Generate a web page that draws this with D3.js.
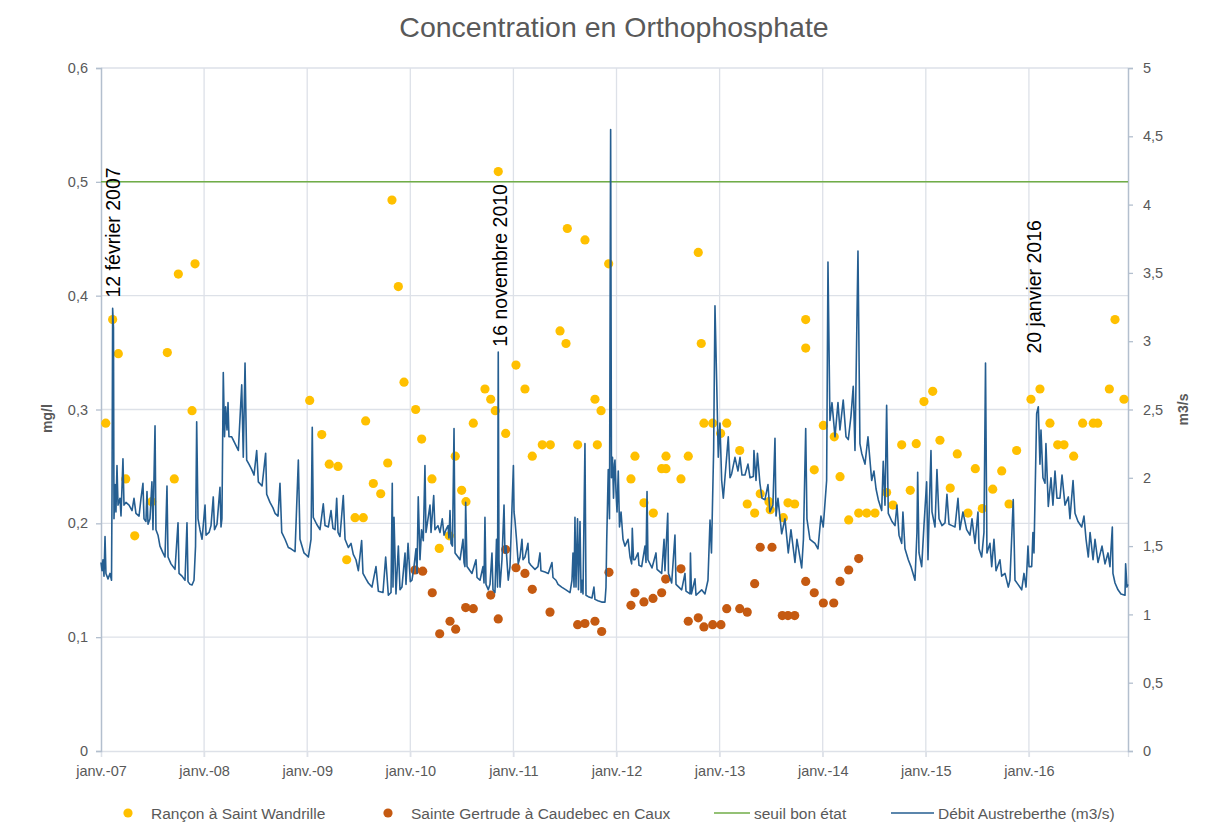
<!DOCTYPE html>
<html>
<head>
<meta charset="utf-8">
<script src="https://cdn.jsdelivr.net/npm/d3@7"></script>
<style>
  body { margin: 0; background: #fff; }
  text { font-family: "Liberation Sans", Arial, sans-serif; }
</style>
</head>
<body>
<div id="chart"></div>
<script>
// ---- data (x values are decimal years) ----
const yearTicks = [2007, 2008, 2009, 2010, 2011, 2012, 2013, 2014, 2015, 2016];
const yearLabels = ["janv.-07", "janv.-08", "janv.-09", "janv.-10", "janv.-11", "janv.-12", "janv.-13", "janv.-14", "janv.-15", "janv.-16"];
const leftTicks = [0, 0.1, 0.2, 0.3, 0.4, 0.5, 0.6];
const rightTicks = [0, 0.5, 1, 1.5, 2, 2.5, 3, 3.5, 4, 4.5, 5];
const seuilBonEtat = 0.5;

// Rançon à Saint Wandrille (mg/l)
const ranconDates = [2007.046, 2007.113, 2007.168, 2007.240, 2007.327, 2007.492, 2007.643, 2007.711, 2007.750, 2007.883, 2007.912,
  2009.024, 2009.141, 2009.214, 2009.299, 2009.383, 2009.464, 2009.544, 2009.567, 2009.641, 2009.713, 2009.781, 2009.822, 2009.884, 2009.939,
  2010.052, 2010.110, 2010.210, 2010.281, 2010.378, 2010.436, 2010.498, 2010.540, 2010.611, 2010.724, 2010.780, 2010.824, 2010.853, 2010.925,
  2011.025, 2011.112, 2011.183, 2011.280, 2011.358, 2011.452, 2011.510, 2011.523, 2011.623, 2011.694, 2011.791, 2011.814, 2011.850, 2011.924,
  2012.140, 2012.179, 2012.266, 2012.357, 2012.438, 2012.480, 2012.480, 2012.625, 2012.696, 2012.793, 2012.822, 2012.848, 2012.933,
  2013.010, 2013.069, 2013.195, 2013.268, 2013.340, 2013.394, 2013.479, 2013.491, 2013.618, 2013.663, 2013.728, 2013.835, 2013.835, 2013.918,
  2014.006, 2014.112, 2014.168, 2014.252, 2014.349, 2014.427, 2014.507, 2014.620, 2014.681, 2014.766, 2014.849, 2014.907, 2014.982,
  2015.067, 2015.137, 2015.237, 2015.305, 2015.409, 2015.480, 2015.548, 2015.649, 2015.736, 2015.807, 2015.881,
  2016.020, 2016.107, 2016.204, 2016.279, 2016.340, 2016.434, 2016.521, 2016.624, 2016.667, 2016.780, 2016.835, 2016.922];
const ranconValues = [0.288, 0.379, 0.349, 0.239, 0.189, 0.219, 0.35, 0.239, 0.419, 0.299, 0.428,
  0.308, 0.278, 0.252, 0.25, 0.168, 0.205, 0.205, 0.29, 0.235, 0.226, 0.253, 0.484, 0.408, 0.324,
  0.30, 0.274, 0.239, 0.178, 0.189, 0.259, 0.229, 0.219, 0.288, 0.318, 0.309, 0.299, 0.509, 0.279,
  0.339, 0.318, 0.259, 0.269, 0.269, 0.369, 0.358, 0.459, 0.269, 0.449, 0.309, 0.269, 0.299, 0.428,
  0.239, 0.259, 0.218, 0.209, 0.248, 0.248, 0.259, 0.239, 0.259, 0.438, 0.358, 0.288, 0.288,
  0.279, 0.288, 0.264, 0.217, 0.209, 0.226, 0.219, 0.212, 0.205, 0.218, 0.217, 0.379, 0.354, 0.247,
  0.286, 0.276, 0.241, 0.203, 0.209, 0.209, 0.209, 0.227, 0.216, 0.269, 0.229, 0.270, 0.307,
  0.316, 0.273, 0.231, 0.261, 0.209, 0.248, 0.213, 0.23, 0.246, 0.217, 0.264,
  0.309, 0.318, 0.288, 0.269, 0.269, 0.259, 0.288, 0.288, 0.288, 0.318, 0.379, 0.309];

// Sainte Gertrude à Caudebec en Caux (mg/l)
const gertrudeDates = [2010.045, 2010.120, 2010.213, 2010.285, 2010.385, 2010.440, 2010.537, 2010.611, 2010.780, 2010.853, 2010.925,
  2011.025, 2011.112, 2011.183, 2011.355, 2011.623, 2011.694, 2011.791, 2011.856, 2011.927,
  2012.140, 2012.179, 2012.266, 2012.354, 2012.438, 2012.477, 2012.625, 2012.696, 2012.793, 2012.848, 2012.933,
  2013.013, 2013.069, 2013.195, 2013.268, 2013.340, 2013.394, 2013.508, 2013.608, 2013.663, 2013.728, 2013.835, 2013.918,
  2014.006, 2014.107, 2014.168, 2014.252, 2014.349];
const gertrudeValues = [0.159, 0.158, 0.139, 0.103, 0.114, 0.107, 0.126, 0.125, 0.137, 0.116, 0.177,
  0.161, 0.156, 0.142, 0.122, 0.111, 0.112, 0.114, 0.105, 0.157,
  0.128, 0.139, 0.131, 0.134, 0.139, 0.151, 0.160, 0.114, 0.117, 0.109, 0.111,
  0.111, 0.125, 0.125, 0.122, 0.147, 0.179, 0.179, 0.119, 0.119, 0.119, 0.149, 0.139,
  0.130, 0.130, 0.149, 0.159, 0.169];

// Débit Austreberthe (m3/s), [decimal year, flow]
const debit = [
  [2007.000,1.38],[2007.010,1.32],[2007.019,1.40],[2007.029,1.28],[2007.039,1.57],[2007.048,1.30],[2007.068,1.26],[2007.087,1.30],
  [2007.102,1.25],[2007.107,1.90],[2007.113,3.24],[2007.121,3.10],[2007.126,1.70],[2007.136,1.95],[2007.145,1.75],[2007.155,2.09],
  [2007.165,1.80],[2007.184,1.85],[2007.194,1.72],[2007.213,2.14],[2007.223,1.80],[2007.242,1.82],[2007.272,1.80],[2007.301,1.76],
  [2007.320,1.85],[2007.339,1.74],[2007.369,1.72],[2007.388,1.85],[2007.407,1.96],[2007.417,1.70],[2007.436,1.68],[2007.446,1.90],
  [2007.456,1.66],[2007.475,1.70],[2007.494,1.97],[2007.504,1.62],[2007.524,2.38],[2007.533,1.62],[2007.553,1.58],[2007.572,1.50],
  [2007.601,1.45],[2007.621,1.42],[2007.640,1.94],[2007.650,1.42],[2007.679,1.37],[2007.718,1.33],[2007.747,1.67],[2007.757,1.30],
  [2007.786,1.28],[2007.815,1.25],[2007.834,1.67],[2007.844,1.24],[2007.863,1.22],[2007.883,1.215],[2007.902,1.25],[2007.917,1.50],
  [2007.928,2.41],[2007.941,1.70],[2007.960,1.62],[2007.980,1.55],
  [2008.009,1.80],[2008.019,1.58],[2008.048,1.60],[2008.067,1.65],[2008.089,1.86],[2008.101,1.62],[2008.125,1.66],[2008.154,1.93],
  [2008.164,1.64],[2008.173,1.70],[2008.186,2.77],[2008.198,2.30],[2008.209,2.52],[2008.222,2.35],[2008.232,2.55],[2008.241,2.30],
  [2008.268,2.30],[2008.300,2.25],[2008.332,2.20],[2008.365,2.68],[2008.380,2.15],[2008.397,2.84],[2008.413,2.13],[2008.435,2.10],
  [2008.462,2.06],[2008.484,2.02],[2008.510,2.20],[2008.526,1.97],[2008.562,1.94],[2008.597,2.18],[2008.607,1.88],[2008.639,1.82],
  [2008.668,1.78],[2008.688,1.74],[2008.717,1.72],[2008.736,1.96],[2008.753,1.60],[2008.785,1.55],[2008.817,1.49],[2008.843,1.48],
  [2008.882,1.46],[2008.914,2.13],[2008.930,1.55],[2008.969,1.45],
  [2009.011,1.42],[2009.037,1.55],[2009.049,2.37],[2009.059,1.71],[2009.092,1.66],[2009.124,1.62],[2009.156,1.81],[2009.173,1.65],
  [2009.205,1.64],[2009.231,1.76],[2009.250,1.63],[2009.270,1.62],[2009.286,1.85],[2009.299,1.60],[2009.318,1.57],[2009.350,1.87],
  [2009.367,1.55],[2009.399,1.49],[2009.425,1.52],[2009.447,1.44],[2009.473,1.40],[2009.496,1.32],[2009.528,1.54],[2009.541,1.30],
  [2009.570,1.26],[2009.593,1.23],[2009.628,1.20],[2009.667,1.35],[2009.690,1.17],[2009.735,1.16],[2009.761,1.42],[2009.787,1.14],
  [2009.813,1.16],[2009.825,1.96],[2009.832,1.20],[2009.842,1.71],[2009.861,1.15],[2009.884,1.50],[2009.900,1.18],[2009.919,1.20],
  [2009.949,1.45],[2009.958,1.22],[2009.978,1.52],
  [2010.000,1.24],[2010.016,1.25],[2010.036,1.35],[2010.055,1.48],[2010.065,1.30],[2010.077,1.86],[2010.094,1.40],[2010.109,1.62],
  [2010.126,1.54],[2010.142,2.09],[2010.152,1.60],[2010.162,1.65],[2010.191,1.80],[2010.201,1.60],[2010.227,1.87],[2010.239,1.62],
  [2010.268,1.65],[2010.288,1.60],[2010.310,1.70],[2010.327,1.58],[2010.346,1.62],[2010.366,1.65],[2010.375,1.56],[2010.385,1.76],
  [2010.395,1.52],[2010.409,1.50],[2010.424,2.36],[2010.434,1.45],[2010.463,1.42],[2010.482,1.40],[2010.511,1.55],[2010.521,1.38],
  [2010.530,1.35],[2010.537,1.82],[2010.550,1.35],[2010.579,1.32],[2010.598,1.30],[2010.637,1.40],[2010.647,1.27],[2010.676,1.25],
  [2010.705,1.35],[2010.715,1.23],[2010.724,1.71],[2010.734,1.22],[2010.756,1.18],[2010.773,1.22],[2010.792,1.45],[2010.802,1.18],
  [2010.821,1.16],[2010.836,1.55],[2010.846,1.20],[2010.853,2.92],[2010.860,1.40],[2010.870,1.20],[2010.889,1.40],[2010.909,1.80],
  [2010.918,1.45],[2010.928,1.50],[2010.950,1.25],[2010.967,1.35],
  [2011.000,2.09],[2011.006,1.75],[2011.015,1.69],[2011.030,1.55],[2011.047,1.37],[2011.064,1.42],[2011.083,1.55],[2011.093,1.40],
  [2011.112,1.42],[2011.141,1.52],[2011.151,1.38],[2011.170,1.36],[2011.209,1.33],[2011.238,1.35],[2011.258,1.45],[2011.267,1.32],
  [2011.306,1.31],[2011.338,1.30],[2011.374,1.38],[2011.384,1.27],[2011.413,1.25],[2011.433,1.22],[2011.468,1.20],[2011.510,1.18],
  [2011.549,1.16],[2011.568,1.25],[2011.578,1.45],[2011.588,1.20],[2011.597,1.71],[2011.607,1.20],[2011.622,1.70],[2011.631,1.18],
  [2011.646,1.68],[2011.656,1.16],[2011.665,1.25],[2011.675,1.15],[2011.694,2.25],[2011.704,1.14],[2011.726,1.13],[2011.762,1.12],
  [2011.781,1.20],[2011.791,1.11],[2011.820,1.10],[2011.856,1.09],[2011.888,1.09],[2011.898,1.20],[2011.905,1.54],[2011.920,2.06],
  [2011.932,1.70],[2011.943,4.55],[2011.951,2.00],[2011.961,2.15],[2011.971,1.85],[2011.980,2.10],[2011.985,2.13],[2011.995,1.90],
  [2012.005,1.75],[2012.017,2.05],[2012.029,1.64],[2012.044,1.75],[2012.063,1.55],[2012.082,1.50],[2012.112,1.55],[2012.131,1.42],
  [2012.147,1.37],[2012.153,1.63],[2012.165,1.40],[2012.179,1.40],[2012.209,1.45],[2012.218,1.36],[2012.244,1.35],[2012.276,1.50],
  [2012.286,1.38],[2012.296,1.90],[2012.305,1.40],[2012.344,1.34],[2012.383,1.45],[2012.393,1.33],[2012.438,1.30],[2012.461,1.55],
  [2012.470,1.32],[2012.497,1.74],[2012.504,1.30],[2012.514,1.28],[2012.535,1.23],[2012.567,1.58],[2012.577,1.22],[2012.632,1.18],
  [2012.664,1.30],[2012.674,1.17],[2012.713,1.15],[2012.717,1.45],[2012.727,1.15],[2012.761,1.26],[2012.771,1.14],[2012.826,1.18],
  [2012.858,1.15],[2012.887,1.25],[2012.907,1.69],[2012.921,1.45],[2012.942,2.20],[2012.955,3.26],[2012.971,2.72],[2012.987,2.15],
  [2013.003,2.40],[2013.020,1.98],[2013.036,1.85],[2013.052,2.00],[2013.084,2.30],[2013.101,2.00],[2013.117,2.03],[2013.149,2.15],
  [2013.178,2.05],[2013.198,2.15],[2013.217,2.02],[2013.246,2.02],[2013.275,2.10],[2013.295,2.00],[2013.327,2.01],[2013.333,2.20],
  [2013.353,1.98],[2013.367,2.18],[2013.391,1.96],[2013.411,1.85],[2013.440,1.84],[2013.469,1.95],[2013.488,1.75],[2013.517,1.80],
  [2013.537,2.29],[2013.547,1.72],[2013.566,1.85],[2013.602,1.59],[2013.634,1.70],[2013.666,1.45],[2013.692,1.62],[2013.731,1.38],
  [2013.750,1.55],[2013.796,1.34],[2013.813,1.55],[2013.835,2.36],[2013.847,1.70],[2013.876,1.55],[2013.925,1.52],[2013.954,1.48],
  [2013.983,1.72],
  [2014.005,1.64],[2014.038,1.98],[2014.051,3.58],[2014.070,2.42],[2014.090,2.55],[2014.119,2.30],[2014.148,2.55],[2014.167,2.35],
  [2014.199,2.57],[2014.226,2.30],[2014.248,2.28],[2014.274,2.45],[2014.296,2.67],[2014.313,2.20],[2014.342,3.66],[2014.361,2.25],
  [2014.378,2.18],[2014.410,2.10],[2014.439,2.30],[2014.475,1.98],[2014.497,2.05],[2014.517,1.92],[2014.539,1.84],[2014.572,1.76],
  [2014.587,2.12],[2014.604,1.80],[2014.620,2.53],[2014.636,1.74],[2014.672,1.68],[2014.701,1.65],[2014.720,1.80],[2014.740,1.58],
  [2014.766,1.52],[2014.778,1.75],[2014.798,1.48],[2014.830,1.40],[2014.856,1.35],[2014.895,1.25],[2014.914,1.60],[2014.921,2.04],
  [2014.934,1.45],[2014.960,1.35],[2014.982,1.65],
  [2015.008,1.97],[2015.021,1.40],[2015.031,1.70],[2015.050,2.20],[2015.060,1.75],[2015.089,1.64],[2015.108,2.06],[2015.128,1.70],
  [2015.157,1.65],[2015.186,1.67],[2015.205,1.88],[2015.225,1.66],[2015.254,1.65],[2015.283,1.64],[2015.312,1.85],[2015.331,1.62],
  [2015.360,1.75],[2015.396,1.62],[2015.428,1.58],[2015.448,1.70],[2015.477,1.52],[2015.506,1.75],[2015.516,1.48],[2015.542,1.42],
  [2015.564,1.60],[2015.579,2.84],[2015.593,1.45],[2015.622,1.52],[2015.639,1.35],[2015.661,1.55],[2015.681,1.32],[2015.719,1.40],
  [2015.736,1.28],[2015.768,1.30],[2015.800,1.20],[2015.816,1.25],[2015.848,1.84],[2015.865,1.25],[2015.894,1.22],[2015.930,1.18],
  [2015.952,1.30],[2015.972,1.20],[2015.991,1.50],
  [2016.001,1.35],[2016.027,1.35],[2016.039,1.60],[2016.049,1.45],[2016.075,2.47],[2016.091,2.52],[2016.107,2.10],[2016.117,2.35],
  [2016.136,2.00],[2016.156,1.96],[2016.165,2.25],[2016.188,1.79],[2016.214,2.00],[2016.233,1.80],[2016.253,2.05],[2016.272,1.85],
  [2016.301,1.85],[2016.321,2.02],[2016.350,1.80],[2016.382,1.86],[2016.398,1.70],[2016.428,1.98],[2016.447,1.74],[2016.476,1.68],
  [2016.512,1.64],[2016.534,1.72],[2016.554,1.55],[2016.576,1.42],[2016.593,1.60],[2016.622,1.40],[2016.641,1.55],[2016.670,1.38],
  [2016.709,1.50],[2016.738,1.37],[2016.767,1.45],[2016.786,1.35],[2016.809,1.64],[2016.815,1.30],[2016.835,1.23],[2016.864,1.18],
  [2016.893,1.15],[2016.932,1.14],[2016.938,1.37],[2016.951,1.20],[2016.961,1.22]
];

// vertical date labels: date (decimal year), foot of the text (m3/s)
const annotLabels = ["12 février 2007", "16 novembre 2010", "20 janvier 2016"];
const annotDates = [2007.118, 2010.874, 2016.053];
const annotFoot = [3.32, 2.96, 2.91];

const seriesNames = ["Rançon à Saint Wandrille", "Sainte Gertrude à Caudebec en Caux", "seuil bon état", "Débit Austreberthe (m3/s)"];

// ---- layout ----
const W = 1205, H = 823;
const margin = { top: 68, right: 77, bottom: 72, left: 101 },
  width = W - margin.left - margin.right,
  height = H - margin.top - margin.bottom;

const colYellow = "#FFC000", colOrange = "#C55A11", colGreen = "#70AD47", colBlue = "#255E91";
const textCol = "#595959", gridCol = "#DDE1E8", axisCol = "#B3BFCE";

const svg = d3.select("#chart")
  .append("svg")
  .attr("width", W)
  .attr("height", H);

const g = svg.append("g")
  .attr("transform", `translate(${margin.left},${margin.top})`);

const x = d3.scaleLinear().domain([2007, 2016.961]).range([0, width]);
const y = d3.scaleLinear().domain([0, 0.6]).range([height, 0]);
const y2 = d3.scaleLinear().domain([0, 5]).range([height, 0]);

const comma = d => String(+d.toFixed(1)).replace(".", ",");

// gridlines
g.append("g").selectAll("line").data(leftTicks.slice(1)).enter().append("line")
  .attr("x1", 0).attr("x2", width)
  .attr("y1", d => y(d)).attr("y2", d => y(d))
  .attr("stroke", gridCol).attr("stroke-width", 1.3);

g.append("g").selectAll("line").data(yearTicks.slice(1)).enter().append("line")
  .attr("x1", d => x(d)).attr("x2", d => x(d))
  .attr("y1", 0).attr("y2", height + 6)
  .attr("stroke", gridCol).attr("stroke-width", 1.3);

// bottom axis
const xAxis = g.append("g")
  .attr("transform", `translate(0,${height})`)
  .call(d3.axisBottom(x).tickValues(yearTicks).tickFormat((d, i) => yearLabels[i]).tickSize(6).tickPadding(9));
xAxis.select(".domain").attr("stroke", gridCol).attr("stroke-width", 1.3);
xAxis.selectAll(".tick line").attr("stroke", gridCol).attr("stroke-width", 1.3);
xAxis.selectAll("text").attr("fill", textCol).style("font-size", "14.5px");

// left axis
const yAxis = g.append("g")
  .call(d3.axisLeft(y).tickValues(leftTicks).tickFormat(comma).tickSize(5).tickPadding(8));
yAxis.select(".domain").attr("stroke", axisCol).attr("stroke-width", 1.5);
yAxis.selectAll(".tick line").attr("stroke", axisCol).attr("stroke-width", 1.3);
yAxis.selectAll("text").attr("fill", textCol).style("font-size", "14.5px");

// right axis
const y2Axis = g.append("g")
  .attr("transform", `translate(${width},0)`)
  .call(d3.axisRight(y2).tickValues(rightTicks).tickFormat(comma).tickSize(5).tickPadding(10));
y2Axis.select(".domain").attr("stroke", axisCol).attr("stroke-width", 1.5);
y2Axis.selectAll(".tick line").attr("stroke", axisCol).attr("stroke-width", 1.3);
y2Axis.selectAll("text").attr("fill", textCol).style("font-size", "14.5px");

// axis titles
svg.append("text")
  .attr("transform", `translate(47,${margin.top + y(0.3) + 9}) rotate(-90)`)
  .attr("text-anchor", "middle").attr("dominant-baseline", "central")
  .attr("fill", textCol).style("font-size", "14px").style("font-weight", "bold")
  .text("mg/l");
svg.append("text")
  .attr("transform", `translate(1183,${margin.top + y(0.3)}) rotate(-90)`)
  .attr("text-anchor", "middle").attr("dominant-baseline", "central")
  .attr("fill", textCol).style("font-size", "14px").style("font-weight", "bold")
  .text("m3/s");

// title
svg.append("text")
  .attr("x", 614).attr("y", 27)
  .attr("text-anchor", "middle").attr("dominant-baseline", "central")
  .attr("fill", textCol).style("font-size", "28.5px")
  .text("Concentration en Orthophosphate");

// scatter series
g.append("g").selectAll("circle").data(ranconDates).enter().append("circle")
  .attr("cx", d => x(d))
  .attr("cy", (d, i) => y(ranconValues[i]))
  .attr("r", 4.6)
  .attr("fill", colYellow);

g.append("g").selectAll("circle").data(gertrudeDates).enter().append("circle")
  .attr("cx", d => x(d))
  .attr("cy", (d, i) => y(gertrudeValues[i]))
  .attr("r", 4.6)
  .attr("fill", colOrange);

// threshold
g.append("line")
  .attr("x1", 0).attr("x2", width)
  .attr("y1", y(seuilBonEtat)).attr("y2", y(seuilBonEtat))
  .attr("stroke", colGreen).attr("stroke-width", 1.5);

// flow line on secondary axis
const line = d3.line()
  .x(d => x(d[0]))
  .y(d => y2(d[1]));

g.append("path")
  .datum(debit)
  .attr("fill", "none")
  .attr("stroke", colBlue)
  .attr("stroke-width", 1.6)
  .attr("stroke-linejoin", "round")
  .attr("d", line);

// vertical annotations
g.append("g").selectAll("text").data(annotLabels).enter().append("text")
  .attr("transform", (d, i) => `translate(${x(annotDates[i])},${y2(annotFoot[i])}) rotate(-90)`)
  .attr("dominant-baseline", "central")
  .attr("fill", "#000")
  .style("font-size", "19.5px")
  .text(d => d);

// legend
const legendY = 813;
const legendMarkX = [128, 388, 714, 891];
const legendTextX = [151, 411, 754, 938];
const legend = svg.append("g");
legend.append("circle").attr("cx", legendMarkX[0]).attr("cy", legendY).attr("r", 4.6).attr("fill", colYellow);
legend.append("circle").attr("cx", legendMarkX[1]).attr("cy", legendY).attr("r", 4.6).attr("fill", colOrange);
legend.append("line").attr("x1", legendMarkX[2]).attr("x2", legendMarkX[2] + 36)
  .attr("y1", legendY).attr("y2", legendY).attr("stroke", colGreen).attr("stroke-width", 1.5);
legend.append("line").attr("x1", legendMarkX[3]).attr("x2", legendMarkX[3] + 43)
  .attr("y1", legendY).attr("y2", legendY).attr("stroke", colBlue).attr("stroke-width", 1.6);
legend.selectAll("text").data(seriesNames).enter().append("text")
  .attr("x", (d, i) => legendTextX[i])
  .attr("y", legendY)
  .attr("dominant-baseline", "central")
  .attr("fill", textCol)
  .style("font-size", "15.5px")
  .text(d => d);
</script>
</body>
</html>
